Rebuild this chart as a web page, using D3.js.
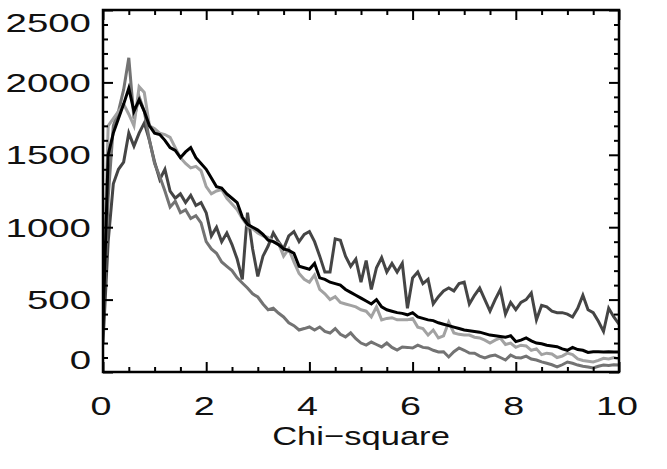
<!DOCTYPE html>
<html><head><meta charset="utf-8">
<script src="https://cdn.jsdelivr.net/npm/d3@7"></script>
<style>body{margin:0;background:#fff}svg{display:block}</style>
</head><body>
<svg id="c" width="667" height="469"></svg>
<script>
// x bins: 0.0 .. 10.0 step 0.1 (101 values)
const xBins = d3.range(0, 101).map(i => i / 10);

const seriesBlack = [300,1500,1650,1750,1850,1960,1800,1880,1800,1700,
 1650,1640,1600,1550,1530,1480,1520,1550,1480,1440,
 1400,1340,1280,1270,1230,1200,1170,1070,1020,1000,
 980,950,910,900,880,850,840,820,730,720,
 710,750,650,640,620,610,600,570,550,530,
 510,490,470,500,450,430,420,410,405,395,
 410,380,370,360,355,340,330,320,310,300,
 290,285,280,275,265,255,250,245,240,250,
 210,220,235,215,200,195,185,180,175,160,
 150,170,155,150,135,140,140,138,140,138,138];

const seriesLight = [400,1700,1750,1800,1850,1780,1700,1970,1930,1700,
 1680,1650,1640,1620,1550,1480,1440,1410,1420,1390,
 1280,1230,1250,1260,1200,1160,1120,1060,1010,990,
 960,940,930,900,890,800,850,760,680,640,
 620,670,570,540,500,520,480,470,460,450,
 430,420,380,450,360,370,375,360,360,360,
 370,310,300,255,290,235,250,345,270,260,
 255,255,240,235,220,200,220,235,190,200,
 170,185,180,150,160,120,130,125,100,110,
 130,120,90,80,75,70,80,95,90,100,90];

const seriesMid = [300,1200,1700,1800,1950,2170,1750,1900,1800,1600,
 1440,1350,1250,1140,1180,1100,1120,1060,1080,1030,
 900,850,820,760,730,700,650,615,580,540,
 518,470,430,440,407,380,340,320,290,300,
 311,290,311,280,269,300,260,242,270,230,
 200,186,207,190,173,200,170,152,173,170,
 166,186,170,166,150,138,140,104,140,166,
 150,131,130,110,97,110,117,100,83,117,
 100,97,110,90,83,70,60,50,35,50,
 69,60,48,40,35,28,40,48,45,50,48];

const seriesDark = [200,900,1300,1400,1450,1650,1560,1650,1720,1600,
 1450,1330,1400,1250,1200,1230,1170,1220,1150,1170,
 1100,940,1000,900,960,880,780,640,1100,850,
 660,800,870,960,900,850,940,970,900,950,
 970,900,800,690,690,920,910,800,730,780,
 620,770,570,720,790,690,750,690,750,440,
 650,690,610,640,470,520,560,580,560,610,
 620,470,530,580,500,420,500,570,400,480,
 430,480,500,545,360,460,450,420,410,410,
 400,380,440,530,430,410,350,280,440,380,330];

const xTickLabels = ["0","2","4","6","8","10"];
const yTickLabels = ["0","500","1000","1500","2000","2500"];
const xTitle = "Chi\u2212square";

const series = [
  {name:"dark", values: seriesDark, color:"#454545"},
  {name:"mid", values: seriesMid, color:"#737373"},
  {name:"light", values: seriesLight, color:"#a2a2a2"},
  {name:"black", values: seriesBlack, color:"#000000"}
];

const L = 103, R = 619, T = 10, B = 372;
const svg = d3.select("#c");
const x = d3.scaleLinear().domain([0,10]).range([L,R]);
const y = d3.scaleLinear().domain([0,2500]).range([B,T]);

const line = d3.line().x((d,i)=>x(xBins[i])).y(d=>y(d));
svg.append("clipPath").attr("id","clip").append("rect")
  .attr("x",L).attr("y",T).attr("width",R-L).attr("height",B-T);
const g = svg.append("g").attr("clip-path","url(#clip)");
series.forEach(s=>{
  g.append("path").datum(s.values).attr("d",line)
    .attr("fill","none").attr("stroke",s.color)
    .attr("stroke-width",3).attr("stroke-linejoin","miter");
});

function styleAxis(sel){
  sel.select(".domain").remove();
  sel.selectAll("line").attr("stroke","#000").attr("stroke-width",2);
  sel.selectAll("text").remove();
}
const xMinor = d3.range(0,10.01,0.5).filter(v=>v%2!==0);
const yMinor = d3.range(0,2501,100).filter(v=>v%500!==0);
svg.append("g").attr("transform",`translate(0,${B})`).call(d3.axisBottom(x).tickValues([0,2,4,6,8,10]).tickSizeInner(-10)).call(styleAxis);
svg.append("g").attr("transform",`translate(0,${B})`).call(d3.axisBottom(x).tickValues(xMinor).tickSizeInner(-5)).call(styleAxis);
svg.append("g").attr("transform",`translate(0,${T})`).call(d3.axisTop(x).tickValues([0,2,4,6,8,10]).tickSizeInner(-10)).call(styleAxis);
svg.append("g").attr("transform",`translate(0,${T})`).call(d3.axisTop(x).tickValues(xMinor).tickSizeInner(-5)).call(styleAxis);
svg.append("g").attr("transform",`translate(${L},0)`).call(d3.axisLeft(y).tickValues([0,500,1000,1500,2000,2500]).tickSizeInner(-10)).call(styleAxis);
svg.append("g").attr("transform",`translate(${L},0)`).call(d3.axisLeft(y).tickValues(yMinor).tickSizeInner(-5)).call(styleAxis);
svg.append("g").attr("transform",`translate(${R},0)`).call(d3.axisRight(y).tickValues([0,500,1000,1500,2000,2500]).tickSizeInner(-10)).call(styleAxis);
svg.append("g").attr("transform",`translate(${R},0)`).call(d3.axisRight(y).tickValues(yMinor).tickSizeInner(-5)).call(styleAxis);

svg.append("rect").attr("x",L).attr("y",T).attr("width",R-L).attr("height",B-T)
  .attr("fill","none").attr("stroke","#000").attr("stroke-width",2.5);

const font = "'Liberation Sans', Arial, Helvetica, sans-serif";
const sxNum = 1.45, sxTitle = 1.33;
yTickLabels.forEach((t,i)=>{
  let cy = y(+t);
  if (i===0) cy -= 13;
  if (i===yTickLabels.length-1) cy += 12;
  svg.append("text").attr("transform",`translate(91,${cy+9.5}) scale(${sxNum},1)`)
    .attr("text-anchor","end").attr("font-family",font).attr("font-size",26.5)
    .attr("fill","#111").text(t);
});
xTickLabels.forEach(t=>{
  svg.append("text").attr("transform",`translate(${x(+t)-2},415) scale(${sxNum},1)`)
    .attr("text-anchor","middle").attr("font-family",font).attr("font-size",26)
    .attr("fill","#111").text(t);
});
svg.append("text").attr("transform",`translate(361,445) scale(${sxTitle},1)`)
  .attr("text-anchor","middle").attr("font-family",font).attr("font-size",26)
  .attr("fill","#111").text(xTitle);
</script>
</body></html>
